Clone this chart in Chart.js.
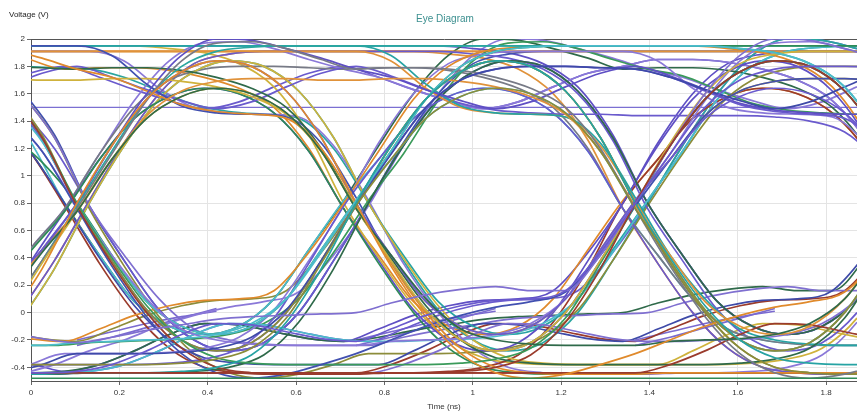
<!DOCTYPE html>
<html>
<head>
<meta charset="utf-8">
<script src="https://cdn.jsdelivr.net/npm/chart.js@4.4.1/dist/chart.umd.min.js"></script>
<style>
html, body { margin: 0; padding: 0; background: #fff; }
#wrap { position: relative; width: 857px; height: 413px; }
#vlabel { position: absolute; left: 9px; top: 10px; font: 8px "Liberation Sans", Arial, sans-serif; color: #222; }
#title { position: absolute; left: 0; top: 13px; width: 890px; text-align: center; font: 10px "Liberation Sans", Arial, sans-serif; color: #3b8f8f; }
</style>
</head>
<body>
<div id="wrap">
  <canvas id="eye" width="857" height="413"></canvas>
  <div id="vlabel">Voltage (V)</div>
  <div id="title">Eye Diagram</div>
</div>
<script>
// sample times (ns), 8 samples per unit interval, crossings near 0.104 / 0.736 / 1.368
const time = [-0.054, 0.025, 0.104, 0.183, 0.262, 0.341, 0.420, 0.499, 0.578, 0.657, 0.736, 0.815, 0.894, 0.973,
              1.052, 1.131, 1.210, 1.289, 1.368, 1.447, 1.526, 1.605, 1.684, 1.763, 1.842, 1.921, 2.000];
// the same samples for traces that cross a little early / late (jitter)
const timeEarly = [-0.082, -0.003, 0.076, 0.155, 0.234, 0.313, 0.392, 0.471, 0.550, 0.629, 0.708, 0.787, 0.866, 0.945,
                   1.024, 1.103, 1.182, 1.261, 1.340, 1.419, 1.498, 1.577, 1.656, 1.735, 1.814, 1.893, 1.972];
const timeLate = [-0.026, 0.053, 0.132, 0.211, 0.290, 0.369, 0.448, 0.527, 0.606, 0.685, 0.764, 0.843, 0.922, 1.001,
                  1.080, 1.159, 1.238, 1.317, 1.396, 1.475, 1.554, 1.633, 1.712, 1.791, 1.870, 1.949, 2.028];
const timeTicks = [0, 0.2, 0.4, 0.6, 0.8, 1, 1.2, 1.4, 1.6, 1.8];
const voltTicks = [-0.4, -0.2, 0, 0.2, 0.4, 0.6, 0.8, 1, 1.2, 1.4, 1.6, 1.8, 2];
const refLevel = 1.5;

// one unit interval of each waveform family (crossing to crossing, 9 samples, volts)
// rising edge, then high
const RA  = [0.80, 1.22, 1.60, 1.88, 2.00, 1.99, 1.93, 1.86, 1.78];
const RA2 = [0.76, 1.16, 1.55, 1.84, 1.97, 1.98, 1.93, 1.85, 1.78];
const RB  = [0.78, 1.18, 1.56, 1.80, 1.91, 1.94, 1.95, 1.95, 1.95];
const RC  = [0.76, 1.16, 1.50, 1.70, 1.78, 1.80, 1.80, 1.79, 1.78];
const RD  = [0.74, 1.12, 1.44, 1.62, 1.69, 1.71, 1.71, 1.70, 1.70];
const RE  = [0.82, 1.24, 1.60, 1.82, 1.89, 1.91, 1.91, 1.91, 1.91];
// staying high
const TF95 = [1.95, 1.95, 1.95, 1.95, 1.95, 1.95, 1.95, 1.95, 1.95];
const TF91 = [1.91, 1.91, 1.91, 1.91, 1.91, 1.91, 1.91, 1.91, 1.91];
const DB   = [1.80, 1.72, 1.63, 1.55, 1.49, 1.54, 1.65, 1.75, 1.80];
const DA2  = [1.78, 1.73, 1.63, 1.53, 1.48, 1.46, 1.45, 1.45, 1.44];
// high, then falling edge
const F95  = [1.95, 1.95, 1.95, 1.93, 1.90, 1.82, 1.65, 1.30, 0.80];
const F91  = [1.91, 1.91, 1.91, 1.89, 1.86, 1.78, 1.60, 1.26, 0.76];
const F82  = [1.82, 1.85, 1.85, 1.83, 1.78, 1.70, 1.55, 1.25, 0.80];
const F78  = [1.78, 1.79, 1.79, 1.77, 1.72, 1.64, 1.50, 1.20, 0.76];
const F70  = [1.70, 1.71, 1.71, 1.69, 1.65, 1.58, 1.45, 1.18, 0.78];
const F44  = [1.44, 1.44, 1.44, 1.44, 1.43, 1.40, 1.32, 1.10, 0.78];
const FK95 = [1.95, 1.88, 1.67, 1.51, 1.46, 1.45, 1.43, 1.24, 0.84];
const FK91 = [1.91, 1.84, 1.64, 1.50, 1.46, 1.45, 1.43, 1.22, 0.82];
const FK78 = [1.78, 1.72, 1.62, 1.52, 1.47, 1.45, 1.42, 1.20, 0.80];
// single high bit
const P1 = [0.80, 1.22, 1.56, 1.76, 1.84, 1.80, 1.62, 1.28, 0.80];
const P2 = [0.74, 1.12, 1.42, 1.58, 1.64, 1.60, 1.46, 1.18, 0.76];
// falling edge, then low
const FB = [0.78, 0.36, 0.00, -0.26, -0.40, -0.44, -0.45, -0.45, -0.45];
const FC = [0.76, 0.34, -0.03, -0.30, -0.44, -0.48, -0.45, -0.38, -0.30];
const FD = [0.80, 0.40, 0.05, -0.20, -0.33, -0.37, -0.38, -0.38, -0.38];
const FE = [0.78, 0.42, 0.10, -0.12, -0.20, -0.23, -0.24, -0.24, -0.24];
// single low bit
const NP1 = [0.78, 0.38, 0.02, -0.20, -0.28, -0.22, 0.00, 0.38, 0.80];
const NP2 = [0.80, 0.42, 0.08, -0.10, -0.16, -0.10, 0.10, 0.46, 0.82];
// staying low
const LB45 = [-0.44, -0.44, -0.44, -0.44, -0.44, -0.44, -0.44, -0.44, -0.44];
const LB48 = [-0.48, -0.48, -0.48, -0.48, -0.48, -0.48, -0.48, -0.48, -0.48];
const LW   = [-0.43, -0.38, -0.28, -0.16, -0.08, -0.09, -0.14, -0.19, -0.21];
const LB   = [-0.22, -0.18, -0.13, -0.09, -0.05, -0.03, -0.02, -0.01, 0.00];
// low, then rising edge
const RL45 = [-0.44, -0.44, -0.44, -0.43, -0.40, -0.31, -0.07, 0.32, 0.80];
const RL38 = [-0.38, -0.38, -0.38, -0.37, -0.34, -0.26, -0.04, 0.36, 0.78];
const RL30 = [-0.30, -0.30, -0.30, -0.29, -0.26, -0.18, 0.02, 0.38, 0.78];
const RL21 = [-0.22, -0.21, -0.20, -0.19, -0.16, -0.08, 0.10, 0.44, 0.82];
const RL11 = [0.11, 0.11, 0.11, 0.11, 0.11, 0.12, 0.20, 0.46, 0.82];
const RLA  = [-0.21, -0.12, -0.02, 0.05, 0.09, 0.10, 0.16, 0.44, 0.80];
const RLA2 = [-0.28, -0.20, -0.10, -0.02, 0.04, 0.08, 0.15, 0.42, 0.78];
const RLH  = [0.00, 0.07, 0.13, 0.17, 0.19, 0.16, 0.16, 0.42, 0.80];
// short traces that end half way through an interval
const stubA = [-0.20, -0.14, -0.08, -0.03, 0.01];
const stubB = [-0.24, -0.18, -0.11, -0.04, 0.03];
const stubStart = [2, 10, 18];

// each trace: interval before the window, the three intervals shown, time base
const traces = [
  ['LB48', 'LB48', 'LB48', 'LB48', 'n'], ['LB45', 'LW', 'RLA', 'RC', 'n'],
  ['LB45', 'LB45', 'RL45', 'P1', 'n'],   ['LW', 'LB', 'RLH', 'RA', 'n'],
  ['FB', 'RL45', 'P1', 'FD', 'n'],       ['FD', 'RL38', 'P2', 'NP1', 'n'],
  ['FE', 'RL21', 'RB', 'F95', 'n'],      ['FC', 'RL30', 'RC', 'DB', 'n'],
  ['RL45', 'P1', 'FC', 'RLA2', 'n'],     ['RL21', 'P2', 'FE', 'RL21', 'n'],
  ['RL11', 'P1', 'NP2', 'P2', 'n'],      ['RL38', 'P2', 'NP1', 'RE', 'n'],
  ['NP1', 'RA2', 'F78', 'FC', 'n'],      ['NP2', 'RD', 'F70', 'NP2', 'n'],
  ['NP1', 'RB', 'TF95', 'F95', 'n'],     ['NP2', 'RA', 'DB', 'DA2', 'n'],
  ['P1', 'FB', 'LB45', 'LW', 'n'],       ['P2', 'FC', 'RLA2', 'RD', 'n'],
  ['P1', 'FD', 'RL38', 'P1', 'n'],       ['P2', 'FE', 'RL21', 'RA2', 'n'],
  ['F95', 'NP1', 'P1', 'FB', 'n'],       ['F82', 'NP2', 'P2', 'NP1', 'n'],
  ['F91', 'NP1', 'RC', 'FK78', 'n'],     ['F44', 'NP2', 'RB', 'TF95', 'n'],
  ['RA', 'FK78', 'FB', 'LB45', 'n'],     ['RC', 'F78', 'FD', 'RL38', 'n'],
  ['RB', 'FK95', 'NP1', 'P1', 'n'],      ['RD', 'F70', 'NP2', 'RD', 'n'],
  ['TF95', 'TF95', 'FK95', 'FE', 'n'],   ['TF91', 'TF91', 'FK91', 'NP1', 'n'],
  ['DB', 'DB', 'DA2', 'F44', 'n'],       ['TF95', 'TF95', 'TF95', 'TF95', 'n'],
  ['LB45', 'LB45', 'LB45', 'LB45', 'e'], ['LB45', 'LB45', 'LW', 'RL21', 'l'],
  ['LW', 'RLA', 'RB', 'F95', 'e'],       ['LB45', 'LW', 'RL21', 'RB', 'l'],
  ['FD', 'RL38', 'P2', 'FB', 'e'],       ['FB', 'RL45', 'P1', 'NP2', 'l'],
  ['FC', 'RL30', 'RE', 'FK91', 'e'],     ['FE', 'RL21', 'RA2', 'DA2', 'l'],
  ['RL21', 'P2', 'FB', 'LB45', 'e'],     ['RL45', 'P1', 'FD', 'RL38', 'l'],
  ['RL38', 'P2', 'NP1', 'P1', 'e'],      ['RL45', 'P1', 'NP2', 'RB', 'l'],
  ['NP2', 'RC', 'F78', 'FE', 'e'],       ['NP1', 'RE', 'F91', 'NP1', 'l'],
  ['NP2', 'RA2', 'DB', 'F82', 'e'],      ['NP1', 'RE', 'TF91', 'TF91', 'l'],
  ['P2', 'FD', 'LW', 'RLA', 'e'],        ['P1', 'FE', 'LB', 'RLH', 'l'],
  ['P2', 'FB', 'RL45', 'P2', 'e'],       ['P1', 'FC', 'RL30', 'RC', 'l'],
  ['F91', 'NP2', 'P2', 'FE', 'e'],       ['F78', 'NP1', 'P1', 'NP2', 'l'],
  ['F70', 'NP2', 'RA', 'F78', 'e'],      ['F95', 'NP1', 'RE', 'TF91', 'l'],
  ['RB', 'F95', 'FD', 'LW', 'e'],        ['RE', 'FK91', 'FB', 'RL45', 'l'],
  ['RA2', 'F78', 'NP2', 'P2', 'e'],      ['RC', 'FK78', 'NP1', 'RA', 'l'],
  ['TF91', 'TF91', 'F91', 'FB', 'e'],    ['TF95', 'TF95', 'F95', 'NP2', 'l'],
  ['DB', 'DB', 'DB', 'F82', 'e'],        ['TF91', 'TF91', 'TF91', 'TF91', 'l'],
  ['FB', 'LW', 'RLA', 'RA', 'l'],        ['LB45', 'LW', 'LB', 'RLH', 'e'],
  ['FC', 'RLA2', 'RA', 'DB', 'l'],       ['FB', 'LB45', 'LW', 'RLA', 'n'],
  ['FD', 'LW', 'RLA', 'RE', 'e'],        ['LW', 'RLA', 'P1', 'FB', 'n']
];

const traceColors = [
  '#2e8b57', '#6a5acd', '#9a3b2c', '#7f6fd0', '#26a3a3', '#8c8c3a', '#4cbccb', '#3e4aa8',
  '#e08a2c', '#2f6a4a', '#6a5acd', '#cfb23c', '#777a86', '#e0923a', '#2aa6a0', '#5f4fc4',
  '#9a3b2c', '#4150b0', '#3a9a5a', '#8a78d8', '#8c8c3a', '#4cbccb', '#6a5acd', '#2e8b57',
  '#e08a2c', '#2f6a4a', '#4150b0', '#cfb23c', '#26a3a3', '#e0923a', '#6a5acd', '#40b8c0',
  '#9a3b2c', '#7f6fd0', '#e08a2c', '#4cbccb', '#6a5acd', '#2f6a4a', '#8a78d8', '#3a9a5a',
  '#2e8b57', '#cfb23c', '#5f4fc4', '#26a3a3', '#777a86', '#6a5acd', '#8a78d8', '#e0923a',
  '#3e4aa8', '#7f6fd0', '#9a3b2c', '#8c8c3a', '#4cbccb', '#6a5acd', '#2f6a4a', '#4150b0',
  '#cfb23c', '#8a78d8', '#e08a2c', '#2aa6a0', '#e0923a', '#5f4fc4', '#6a5acd', '#e08a2c',
  '#6a5acd', '#2f6a4a', '#8a78d8', '#9a3b2c', '#5f4fc4', '#8c8c3a'
];

const shapes = { RA, RA2, RB, RC, RD, RE, TF95, TF91, DB, DA2, F95, F91, F82, F78, F70, F44,
  FK95, FK91, FK78, P1, P2, FB, FC, FD, FE, NP1, NP2, LB45, LB48, LW, LB,
  RL45, RL38, RL30, RL21, RL11, RLA, RLA2, RLH };
const timeBase = { n: time, e: timeEarly, l: timeLate };

function joinIntervals(names) {
  const [pre, a, b, c] = names.slice(0, 4).map(n => shapes[n]);
  return [pre[6], pre[7], ...a, ...b.slice(1), ...c.slice(1)];
}

const datasets = traces.map((t, i) => {
  const tb = timeBase[t[4]];
  return {
    data: joinIntervals(t).map((v, k) => ({ x: tb[k], y: v })),
    borderColor: traceColors[i % traceColors.length],
    borderWidth: 1.7,
    pointRadius: 0,
    cubicInterpolationMode: 'monotone',
    fill: false
  };
});

[stubA, stubB].forEach(stub => {
  stubStart.forEach(s => {
    datasets.push({
      data: stub.map((v, j) => ({ x: time[s + j], y: v })),
      borderColor: '#7a6ad0',
      borderWidth: 1.7,
      pointRadius: 0,
      cubicInterpolationMode: 'monotone',
      fill: false
    });
  });
});

datasets.push({
  data: time.map(t => ({ x: t, y: refLevel })),
  borderColor: '#7b6fd2',
  borderWidth: 1.3,
  pointRadius: 0,
  fill: false
});

const fontFamily = '"Liberation Sans", Arial, sans-serif';

new Chart(document.getElementById('eye'), {
  type: 'line',
  data: { datasets: datasets },
  options: {
    responsive: false,
    animation: false,
    devicePixelRatio: 1,
    layout: { padding: { top: 39, left: 0, right: 0, bottom: 0 } },
    plugins: {
      legend: { display: false },
      tooltip: { enabled: false },
      title: { display: false }
    },
    scales: {
      x: {
        type: 'linear',
        min: 0,
        max: 1.87,
        afterBuildTicks: s => { s.ticks = timeTicks.map(v => ({ value: v })); },
        afterFit: s => { s.height = 32; },
        grid: { color: '#e4e4e4', tickColor: '#666', tickLength: 4 },
        border: { color: '#555' },
        ticks: { font: { size: 8, family: fontFamily }, color: '#333', padding: 3, maxRotation: 0, callback: v => String(v) },
        title: { display: true, text: 'Time (ns)', color: '#333', font: { size: 8, family: fontFamily }, padding: { top: 0, bottom: 1 } }
      },
      y: {
        min: -0.5,
        max: 2,
        afterBuildTicks: s => { s.ticks = voltTicks.map(v => ({ value: v })); },
        afterFit: s => { s.width = 31; },
        grid: {
          color: ctx => (ctx.tick && ctx.tick.value === 2 ? '#555' : '#e4e4e4'),
          tickColor: '#666',
          tickLength: 4
        },
        border: { color: '#555' },
        ticks: { font: { size: 8, family: fontFamily }, color: '#333', padding: 2, callback: v => String(v) }
      }
    }
  }
});
</script>
</body>
</html>
